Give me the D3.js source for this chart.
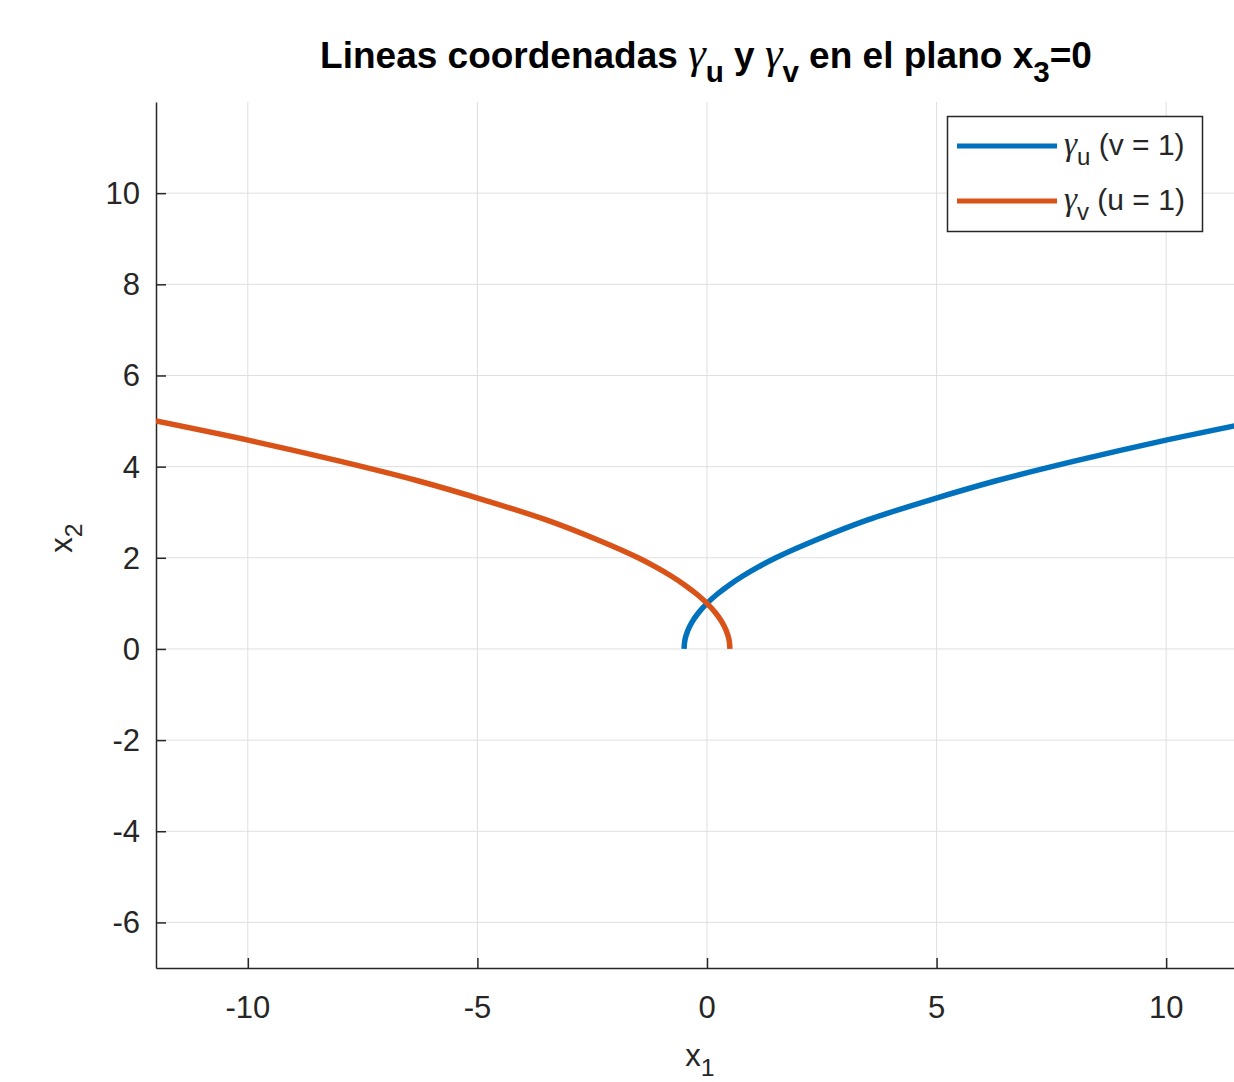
<!DOCTYPE html>
<html>
<head>
<meta charset="utf-8">
<script src="https://cdn.jsdelivr.net/npm/d3@7"></script>
<style>
  body { margin: 0; background: #fff; }
  text { font-family: "Liberation Sans", Arial, sans-serif; fill: #262626; }
</style>
</head>
<body>
<div id="chart"></div>
<script>
// points: gamma_u (v = 1)
var uX1 = [-0.5, -0.48, -0.42, -0.32, -0.18, 0, 0.22, 0.48, 0.78, 1.12, 1.5, 2.4, 3.5, 4.8, 6.3, 8, 9.9, 12];
var uX2 = [0, 0.2, 0.4, 0.6, 0.8, 1, 1.2, 1.4, 1.6, 1.8, 2, 2.4, 2.83, 3.25, 3.69, 4.12, 4.56, 5];
// gamma_v (u = 1)
var vX1 = [0.5, 0.48, 0.42, 0.32, 0.18, 0, -0.22, -0.48, -0.78, -1.12, -1.5, -2.4, -3.5, -4.8, -6.3, -8, -9.9, -12];
var vX2 = [0, 0.2, 0.4, 0.6, 0.8, 1, 1.2, 1.4, 1.6, 1.8, 2, 2.4, 2.83, 3.25, 3.69, 4.12, 4.56, 5];

var xTicks = [-10, -5, 0, 5, 10];
var yTicks = [-6, -4, -2, 0, 2, 4, 6, 8, 10];
var xDomain = [-12, 12];
var yDomain = [-7, 12];

var width = 1234, height = 1082;
var pLeft = 156, pRight = 1258, pTop = 102, pBottom = 968;

var svg = d3.select("#chart").append("svg")
    .attr("width", width)
    .attr("height", height);

var x = d3.scaleLinear().domain(xDomain).range([pLeft, pRight]);
var y = d3.scaleLinear().domain(yDomain).range([pBottom, pTop]);

svg.append("defs").append("clipPath").attr("id", "plot")
  .append("rect")
    .attr("x", pLeft).attr("y", pTop)
    .attr("width", pRight - pLeft).attr("height", pBottom - pTop);

// grid
var grid = svg.append("g").attr("stroke", "#dfdfdf").attr("stroke-width", 1);
grid.selectAll(".gx").data(xTicks).enter().append("line")
    .attr("x1", function(d) { return x(d); }).attr("x2", function(d) { return x(d); })
    .attr("y1", pTop).attr("y2", pBottom);
grid.selectAll(".gy").data(yTicks).enter().append("line")
    .attr("y1", function(d) { return y(d); }).attr("y2", function(d) { return y(d); })
    .attr("x1", pLeft).attr("x2", pRight);

// axes, ticks pointing inward like matlab
var fmt = function(d) { return String(d); };
var xAxis = svg.append("g")
    .attr("transform", "translate(0," + pBottom + ")")
    .call(d3.axisTop(x).tickValues(xTicks).tickSize(10).tickSizeOuter(0).tickFormat(""));
var yAxis = svg.append("g")
    .attr("transform", "translate(" + pLeft + ",0)")
    .call(d3.axisRight(y).tickValues(yTicks).tickSize(10).tickSizeOuter(0).tickFormat(""));
[xAxis, yAxis].forEach(function(a) {
    a.select(".domain").attr("stroke", "#262626").attr("stroke-width", 1.5);
    a.selectAll(".tick line").attr("stroke", "#262626").attr("stroke-width", 1.5);
});

svg.append("g").selectAll("text").data(xTicks).enter().append("text")
    .attr("x", function(d) { return x(d); })
    .attr("y", pBottom + 50)
    .attr("text-anchor", "middle")
    .style("font-size", "31px")
    .text(fmt);
svg.append("g").selectAll("text").data(yTicks).enter().append("text")
    .attr("x", pLeft - 16)
    .attr("y", function(d) { return y(d) + 11; })
    .attr("text-anchor", "end")
    .style("font-size", "31px")
    .text(fmt);

// curves
var line = d3.line()
    .x(function(d) { return x(d[0]); })
    .y(function(d) { return y(d[1]); })
    .curve(d3.curveCatmullRom);

var curves = svg.append("g").attr("clip-path", "url(#plot)");
curves.append("path")
    .datum(d3.zip(uX1, uX2))
    .attr("d", line)
    .attr("fill", "none")
    .attr("stroke", "#0072BD")
    .attr("stroke-width", 5.5);
curves.append("path")
    .datum(d3.zip(vX1, vX2))
    .attr("d", line)
    .attr("fill", "none")
    .attr("stroke", "#D95319")
    .attr("stroke-width", 5.5);

// title
var title = svg.append("text")
    .attr("x", 706).attr("y", 68)
    .attr("text-anchor", "middle")
    .style("font-size", "37px")
    .style("font-weight", "bold")
    .style("fill", "#000");
var gammaStyle = function(t) {
    return t.style("font-family", "'Liberation Serif', serif").style("font-style", "italic").style("font-weight", "normal").style("font-size", "1.2em");
};
title.append("tspan").text("Lineas coordenadas ");
gammaStyle(title.append("tspan").text("\u03b3"));
title.append("tspan").attr("dy", 14).style("font-size", "0.8em").text("u");
title.append("tspan").attr("dy", -14).text(" y ");
gammaStyle(title.append("tspan").text("\u03b3"));
title.append("tspan").attr("dy", 14).style("font-size", "0.8em").text("v");
title.append("tspan").attr("dy", -14).text(" en el plano x");
title.append("tspan").attr("dy", 14).style("font-size", "0.8em").text("3");
title.append("tspan").attr("dy", -14).text("=0");

// axis labels
var xl = svg.append("text")
    .attr("x", 700).attr("y", 1066)
    .attr("text-anchor", "middle")
    .style("font-size", "31px");
xl.append("tspan").text("x");
xl.append("tspan").attr("dy", 10).style("font-size", "0.8em").text("1");

var yl = svg.append("text")
    .attr("transform", "translate(72,538) rotate(-90)")
    .attr("text-anchor", "middle")
    .style("font-size", "31px");
yl.append("tspan").text("x");
yl.append("tspan").attr("dy", 10).style("font-size", "0.8em").text("2");

// legend
var legendNames = [["u", "(v = 1)"], ["v", "(u = 1)"]];
var legendColors = ["#0072BD", "#D95319"];
var lg = svg.append("g");
lg.append("rect")
    .attr("x", 947.5).attr("y", 116.5)
    .attr("width", 255).attr("height", 115)
    .attr("fill", "#fff")
    .attr("stroke", "#262626")
    .attr("stroke-width", 1.5);
legendNames.forEach(function(n, i) {
    var yy = 146 + i * 55;
    lg.append("line")
        .attr("x1", 957).attr("x2", 1057)
        .attr("y1", yy).attr("y2", yy)
        .attr("stroke", legendColors[i])
        .attr("stroke-width", 5);
    var t = lg.append("text")
        .attr("x", 1064).attr("y", yy + 9)
        .style("font-size", "30px");
    t.append("tspan").style("font-family", "'Liberation Serif', serif").style("font-style", "italic").style("font-size", "1.1em").text("\u03b3");
    t.append("tspan").attr("dy", 10).style("font-size", "0.8em").text(n[0]);
    t.append("tspan").attr("dy", -10).text(" " + n[1]);
});
</script>
</body>
</html>
